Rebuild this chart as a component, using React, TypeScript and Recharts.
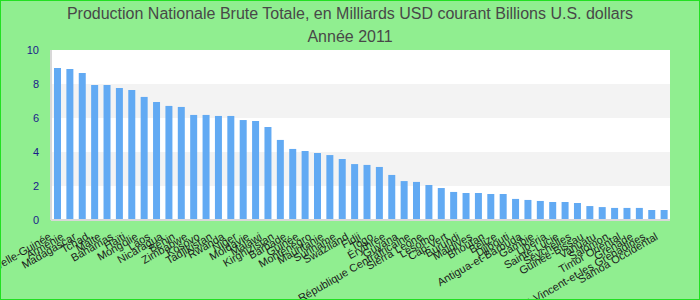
import { Bar, BarChart, CartesianGrid, XAxis, YAxis } from "recharts";

const countries = [
  "Papouasie-Nouvelle-Guinée", "Arménie", "Madagascar", "Tchad", "Malte",
  "Bahamas", "Haïti", "Mongolie", "Laos", "Nicaragua",
  "Bénin", "Zimbabwe", "Kosovo", "Tadjikistan", "Rwanda",
  "Niger", "Moldavie", "Malawi", "Kirghizistan", "Barbade",
  "Guinée", "Monténégro", "Mauritanie", "Suriname", "Swaziland",
  "Fidji", "Togo", "Érythrée", "Guyana", "République Centrafricaine",
  "Sierra Leone", "Lesotho", "Cap-Vert", "Burundi", "Maldives",
  "Bhoutan", "Belize", "Djibouti", "Antigua-et-Barbuda", "Gambie",
  "Libéria", "Sainte-Lucie", "Seychelles", "Guinée-Bissau", "Vanuatu",
  "Salomon", "Timor Oriental", "Grenade", "Saint-Vincent-et-les Grenadines", "Samoa Occidental",
];

const gnp = [
  8.94, 8.88, 8.65, 7.94, 7.94, 7.76, 7.65, 7.24, 6.94, 6.71,
  6.65, 6.18, 6.18, 6.12, 6.12, 5.88, 5.82, 5.47, 4.71, 4.18,
  4.06, 3.94, 3.82, 3.59, 3.29, 3.24, 3.12, 2.65, 2.29, 2.24,
  2.06, 1.88, 1.65, 1.59, 1.59, 1.53, 1.53, 1.24, 1.18, 1.12,
  1.06, 1.06, 1.0, 0.82, 0.76, 0.71, 0.71, 0.71, 0.59, 0.59,
];

const yTicks = [0, 2, 4, 6, 8, 10];

const data = countries.map((name, i) => ({ name, value: gnp[i] }));

export default function App() {
  return (
    <div
      style={{
        position: "absolute",
        left: 0,
        top: 0,
        width: 700,
        height: 300,
        boxSizing: "border-box",
        border: "1px solid #22e022",
        background: "#90ee90",
        fontFamily: "'Liberation Sans', Arial, sans-serif",
        overflow: "hidden",
      }}
    >
      <div
        style={{
          position: "absolute",
          left: 0,
          width: 698,
          top: 1,
          textAlign: "center",
          color: "#484848",
          fontSize: 16,
          lineHeight: "23px",
        }}
      >
        Production Nationale Brute Totale, en Milliards USD courant Billions U.S. dollars
        <br />
        Année 2011
      </div>
      <BarChart
        width={698}
        height={298}
        data={data}
        margin={{ top: 49, right: 29, bottom: 0, left: 0 }}
      >
        <CartesianGrid
          vertical={false}
          stroke="none"
          horizontalFill={["#ffffff", "#f3f3f3"]}
          fillOpacity={1}
        />
        <XAxis
          dataKey="name"
          interval={0}
          height={79}
          angle={-30}
          textAnchor="end"
          tickSize={0}
          tickMargin={12}
          axisLine={{ stroke: "#d8d8d8", strokeWidth: 2 }}
          tick={{ fill: "#1c1c1c", fontSize: 11, dx: -9 }}
        />
        <XAxis
          xAxisId="top"
          orientation="top"
          dataKey="name"
          height={0}
          tick={false}
          tickLine={false}
          axisLine={{ stroke: "#d8d8d8", strokeWidth: 2 }}
        />
        <YAxis
          domain={[0, 10]}
          ticks={yTicks}
          width={50}
          tickSize={0}
          tickMargin={12}
          axisLine={{ stroke: "#d8d8d8", strokeWidth: 2 }}
          tick={{ fill: "#1a1a8a", fontSize: 11 }}
        />
        <YAxis
          yAxisId="right"
          orientation="right"
          width={0}
          tick={false}
          tickLine={false}
          axisLine={{ stroke: "#d8d8d8", strokeWidth: 2 }}
        />
        <Bar dataKey="value" fill="#62aaf3" barSize={7} isAnimationActive={false} />
      </BarChart>
    </div>
  );
}
